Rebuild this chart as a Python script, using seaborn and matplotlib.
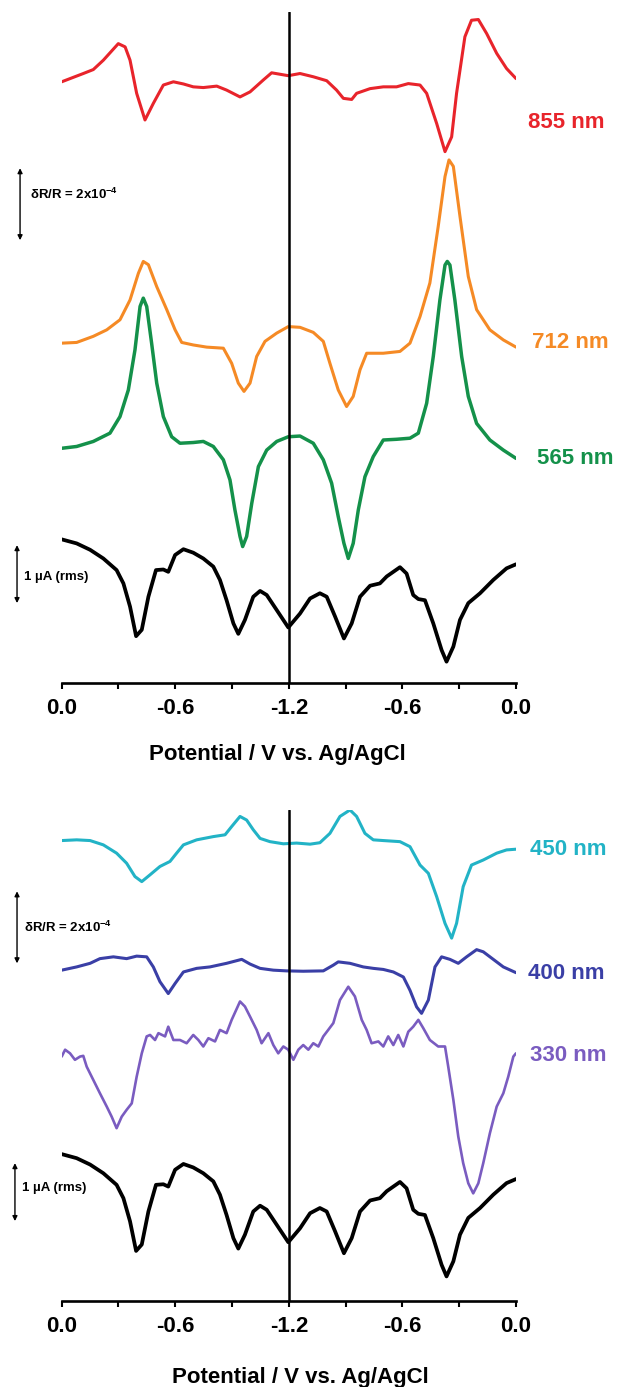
import numpy as np
import pandas as pd
import matplotlib
matplotlib.use("Agg")
import matplotlib.pyplot as plt
import seaborn as sns

# ---------------- data ----------------
# x: distance along the cyclic sweep (V), 0 -> 1.2 (= -1.2 V) -> 2.4 (back to 0.0 V)
# signals: dR/R in units of 1e-4 (optical), current in uA (rms)
red_scan = [0, 0.114, 0.167, 0.220, 0.299, 0.335, 0.361, 0.396, 0.440, 0.484, 0.537, 0.590, 0.643, 0.695,
            0.748, 0.819, 0.871, 0.942, 0.995, 1.065, 1.109, 1.153, 1.197, 1.259, 1.329, 1.400, 1.452, 1.488,
            1.532, 1.558, 1.629, 1.699, 1.769, 1.831, 1.893, 1.928, 1.981, 2.025, 2.060, 2.086, 2.130, 2.165,
            2.201, 2.245, 2.298, 2.350, 2.400]
red_sig = [0, 0.23, 0.34, 0.60, 1.06, 0.97, 0.60, -0.32, -1.06, -0.60, -0.09, 0, -0.06, -0.14,
           -0.16, -0.12, -0.23, -0.42, -0.28, 0.05, 0.25, 0.21, 0.17, 0.23, 0.14, 0.03, -0.23, -0.46,
           -0.49, -0.32, -0.19, -0.14, -0.14, -0.05, -0.09, -0.32, -1.16, -1.94, -1.53, -0.32, 1.25, 1.71,
           1.73, 1.34, 0.79, 0.37, 0.09]

orange_scan = [0, 0.079, 0.167, 0.238, 0.308, 0.361, 0.405, 0.431, 0.458, 0.502, 0.555, 0.599, 0.634, 0.695,
               0.766, 0.854, 0.898, 0.933, 0.963, 0.995, 1.030, 1.074, 1.136, 1.197, 1.259, 1.329, 1.382, 1.417,
               1.461, 1.505, 1.540, 1.576, 1.611, 1.699, 1.787, 1.840, 1.893, 1.945, 1.989, 2.025, 2.046, 2.069,
               2.104, 2.148, 2.192, 2.262, 2.333, 2.400]
orange_sig = [0, 0.02, 0.19, 0.37, 0.65, 1.20, 1.94, 2.27, 2.18, 1.57, 0.93, 0.37, 0.02, -0.05,
              -0.11, -0.14, -0.56, -1.11, -1.34, -1.11, -0.37, 0.05, 0.28, 0.46, 0.44, 0.30, 0.05, -0.56,
              -1.30, -1.76, -1.48, -0.74, -0.28, -0.28, -0.23, 0, 0.74, 1.67, 3.24, 4.63, 5.09, 4.91,
              3.52, 1.85, 0.93, 0.37, 0.09, -0.11]

green_scan = [0, 0.079, 0.167, 0.255, 0.308, 0.352, 0.387, 0.414, 0.431, 0.449, 0.475, 0.502, 0.537, 0.581,
              0.625, 0.695, 0.748, 0.801, 0.854, 0.889, 0.915, 0.942, 0.956, 0.977, 1.004, 1.039, 1.083, 1.136,
              1.197, 1.259, 1.329, 1.382, 1.426, 1.461, 1.491, 1.514, 1.540, 1.567, 1.602, 1.646, 1.699, 1.769,
              1.840, 1.884, 1.928, 1.963, 1.998, 2.025, 2.037, 2.051, 2.077, 2.113, 2.148, 2.192, 2.262, 2.333,
              2.400]
green_sig = [0, 0.05, 0.19, 0.42, 0.88, 1.62, 2.73, 3.94, 4.17, 3.94, 2.92, 1.81, 0.88, 0.32,
             0.14, 0.16, 0.19, 0.05, -0.32, -0.88, -1.71, -2.45, -2.73, -2.45, -1.53, -0.51, -0.05, 0.19,
             0.32, 0.34, 0.14, -0.32, -0.97, -1.90, -2.64, -3.06, -2.64, -1.71, -0.79, -0.23, 0.23, 0.25,
             0.28, 0.42, 1.25, 2.55, 4.12, 5.09, 5.19, 5.09, 4.12, 2.55, 1.44, 0.69, 0.23, -0.05,
             -0.28]

current_scan = [0, 0.079, 0.150, 0.220, 0.290, 0.326, 0.361, 0.393, 0.423, 0.458, 0.498, 0.537, 0.563, 0.599,
                0.643, 0.695, 0.748, 0.801, 0.836, 0.871, 0.907, 0.933, 0.968, 1.012, 1.048, 1.083, 1.136, 1.197,
                1.259, 1.312, 1.364, 1.400, 1.444, 1.491, 1.532, 1.576, 1.629, 1.681, 1.717, 1.787, 1.822, 1.857,
                1.884, 1.919, 1.963, 2.007, 2.033, 2.069, 2.104, 2.148, 2.210, 2.280, 2.350, 2.400]
current_uA = [0, -0.07, -0.18, -0.33, -0.53, -0.76, -1.16, -1.67, -1.56, -0.99, -0.53, -0.52, -0.56, -0.27,
              -0.17, -0.23, -0.33, -0.47, -0.70, -1.05, -1.45, -1.63, -1.39, -0.99, -0.89, -0.96, -1.22, -1.52,
              -1.28, -1.02, -0.93, -0.99, -1.33, -1.71, -1.45, -0.99, -0.80, -0.76, -0.64, -0.48, -0.59, -0.96,
              -1.03, -1.05, -1.45, -1.91, -2.11, -1.85, -1.39, -1.10, -0.93, -0.70, -0.50, -0.43]

cyan_scan = [0, 0.079, 0.150, 0.220, 0.290, 0.343, 0.387, 0.423, 0.467, 0.519, 0.572, 0.607, 0.643, 0.713,
             0.801, 0.863, 0.898, 0.942, 0.977, 1.012, 1.048, 1.100, 1.171, 1.241, 1.312, 1.364, 1.417, 1.470,
             1.523, 1.558, 1.602, 1.646, 1.699, 1.787, 1.840, 1.893, 1.937, 1.981, 2.025, 2.060, 2.086, 2.121,
             2.165, 2.227, 2.298, 2.350, 2.400]
cyan_sig = [0, 0.02, 0, -0.12, -0.35, -0.63, -1.00, -1.14, -0.95, -0.72, -0.58, -0.35, -0.12, 0.02,
            0.11, 0.16, 0.39, 0.67, 0.57, 0.30, 0.06, -0.03, -0.09, -0.07, -0.10, -0.06, 0.20, 0.67,
            0.85, 0.67, 0.20, 0.02, 0, -0.03, -0.17, -0.68, -0.91, -1.56, -2.30, -2.71, -2.30, -1.28,
            -0.68, -0.54, -0.35, -0.26, -0.24]

blue_scan = [0, 0.079, 0.150, 0.202, 0.273, 0.343, 0.396, 0.449, 0.484, 0.519, 0.563, 0.599, 0.643, 0.713,
             0.783, 0.871, 0.951, 0.995, 1.048, 1.118, 1.188, 1.276, 1.382, 1.435, 1.461, 1.523, 1.593, 1.646,
             1.699, 1.752, 1.805, 1.840, 1.875, 1.901, 1.937, 1.972, 2.007, 2.051, 2.095, 2.139, 2.192, 2.227,
             2.280, 2.333, 2.400]
blue_sig = [0, 0.09, 0.19, 0.32, 0.37, 0.32, 0.39, 0.37, 0.09, -0.32, -0.65, -0.37, -0.05, 0.05,
            0.09, 0.19, 0.30, 0.17, 0.05, 0, -0.02, -0.03, -0.02, 0.14, 0.23, 0.19, 0.09, 0.05,
            0.02, -0.05, -0.19, -0.56, -1.02, -1.20, -0.83, 0.09, 0.37, 0.30, 0.19, 0.37, 0.57, 0.51,
            0.30, 0.09, -0.07]

purple_scan = [0, 0.018, 0.044, 0.070, 0.097, 0.114, 0.132, 0.167, 0.202, 0.238, 0.264, 0.290, 0.317, 0.343,
               0.370, 0.396, 0.423, 0.449, 0.467, 0.493, 0.511, 0.546, 0.563, 0.590, 0.625, 0.660, 0.695, 0.722,
               0.748, 0.775, 0.810, 0.836, 0.871, 0.898, 0.942, 0.968, 0.995, 1.030, 1.056, 1.092, 1.118, 1.144,
               1.171, 1.197, 1.224, 1.250, 1.276, 1.303, 1.329, 1.356, 1.382, 1.408, 1.435, 1.470, 1.514, 1.549,
               1.585, 1.611, 1.637, 1.673, 1.699, 1.725, 1.752, 1.778, 1.805, 1.831, 1.857, 1.884, 1.910, 1.945,
               1.989, 2.025, 2.042, 2.069, 2.095, 2.121, 2.148, 2.174, 2.201, 2.227, 2.262, 2.298, 2.333, 2.359,
               2.386, 2.400]
purple_sig = [0, 0.19, 0.09, -0.09, 0, 0.02, -0.28, -0.65, -1.02, -1.39, -1.67, -1.99, -1.67, -1.48,
              -1.30, -0.56, 0.09, 0.56, 0.60, 0.46, 0.65, 0.56, 0.83, 0.46, 0.46, 0.37, 0.60, 0.46,
              0.28, 0.51, 0.42, 0.74, 0.65, 1.02, 1.53, 1.39, 1.11, 0.74, 0.37, 0.65, 0.32, 0.09,
              0.28, 0.19, -0.09, 0.19, 0.32, 0.19, 0.37, 0.28, 0.56, 0.74, 0.93, 1.57, 1.94, 1.67,
              1.02, 0.74, 0.37, 0.42, 0.28, 0.56, 0.32, 0.60, 0.28, 0.69, 0.83, 1.02, 0.79, 0.46,
              0.28, 0.28, -0.28, -1.20, -2.22, -2.96, -3.52, -3.80, -3.52, -2.96, -2.13, -1.39, -1.02, -0.56,
              0, 0.09]

# vertical stacking offsets (in 1e-4 dR/R units) and trace labels
top_labels = ["855 nm", "712 nm", "565 nm"]
top_offsets = [16.70, 9.44, 6.52]
bottom_labels = ["450 nm", "400 nm", "330 nm"]
bottom_offsets = [12.79, 9.19, 6.79]
current_offsets = [3.99, 4.08]
uA_to_units = 1.61  # 1 uA scale bar relative to dR/R = 1e-4 unit

tick_pos = [0, 0.6, 1.2, 1.8, 2.4]
tick_labels = ["0.0", "-0.6", "-1.2", "-0.6", "0.0"]
minor_pos = [0.3, 0.9, 1.5, 2.1]
xlabel = "Potential / V vs. Ag/AgCl"

colors = {"855 nm": "#e8242b", "712 nm": "#f58a25", "565 nm": "#14914a",
          "450 nm": "#22b3c6", "400 nm": "#3a3fa6", "330 nm": "#7a5cc0"}

# ---------------- style ----------------
sns.set_theme(style="white")
plt.rcParams["font.family"] = ["Liberation Sans", "DejaVu Sans"]
plt.rcParams["font.weight"] = "bold"
plt.rcParams["text.color"] = "black"
plt.rcParams["axes.labelcolor"] = "black"
plt.rcParams["xtick.color"] = "black"
plt.rcParams["mathtext.fontset"] = "custom"
plt.rcParams["mathtext.rm"] = "Liberation Sans:bold"
plt.rcParams["mathtext.default"] = "rm"

W, H = 621, 1387
fig = plt.figure(figsize=(W / 100, H / 100), dpi=100)
left = 61.7 / W
width = (516 - 61.7) / W
ax_top = fig.add_axes([left, 1 - 683 / H, width, 671 / H])
ax_bot = fig.add_axes([left, 1 - 1301 / H, width, 491 / H])


def draw_trace(ax, scan, sig, offset, color, lw, scale=1.0):
    df = pd.DataFrame({"scan": scan, "y": np.asarray(sig) * scale + offset})
    sns.lineplot(data=df, x="scan", y="y", ax=ax, color=color, linewidth=lw,
                 estimator=None, sort=False, solid_joinstyle="round", solid_capstyle="round")


# top panel
draw_trace(ax_top, red_scan, red_sig, top_offsets[0], colors["855 nm"], 2.2)
draw_trace(ax_top, orange_scan, orange_sig, top_offsets[1], colors["712 nm"], 2.2)
draw_trace(ax_top, green_scan, green_sig, top_offsets[2], colors["565 nm"], 2.5)
draw_trace(ax_top, current_scan, current_uA, current_offsets[0], "black", 2.7, uA_to_units)
# bottom panel
draw_trace(ax_bot, cyan_scan, cyan_sig, bottom_offsets[0], colors["450 nm"], 2.2)
draw_trace(ax_bot, blue_scan, blue_sig, bottom_offsets[1], colors["400 nm"], 2.2)
draw_trace(ax_bot, purple_scan, purple_sig, bottom_offsets[2], colors["330 nm"], 1.9)
draw_trace(ax_bot, current_scan, current_uA, current_offsets[1], "black", 2.7, uA_to_units)

ax_top.set_ylim(0, 671 / 36)
ax_bot.set_ylim(0, 491 / 36)

label_pos_top = [(2.463, 15.58), (2.484, 9.47), (2.51, 6.25)]
label_pos_bot = [(2.474, 12.53), (2.463, 9.11), (2.474, 6.83)]
for ax, labels, poss in [(ax_top, top_labels, label_pos_top), (ax_bot, bottom_labels, label_pos_bot)]:
    for lab, (x, y) in zip(labels, poss):
        ax.text(x, y, lab, color=colors[lab], fontsize=16, fontweight="bold",
                ha="left", va="center", clip_on=False)

for ax, xl_x, xl_y in [(ax_top, 0.474, -0.091), (ax_bot, 0.525, -0.134)]:
    ax.set_xlim(0, 2.4)
    ax.axvline(1.2, color="black", linewidth=1.8)
    for side in ["left", "right", "top"]:
        ax.spines[side].set_visible(False)
    ax.spines["bottom"].set_linewidth(1.9)
    ax.spines["bottom"].set_color("black")
    ax.set_yticks([])
    ax.set_ylabel("")
    ax.set_xticks(tick_pos)
    ax.set_xticklabels(tick_labels)
    ax.set_xticks(minor_pos, minor=True)
    ax.tick_params(axis="x", which="both", direction="out", length=4, width=1.5,
                   color="black", labelcolor="black", bottom=True, pad=7, labelsize=16)
    for t in ax.get_xticklabels():
        t.set_fontweight("bold")
    ax.set_xlabel(xlabel, fontsize=16, fontweight="bold", color="black")
    ax.xaxis.set_label_coords(xl_x, xl_y)
    ax.patch.set_alpha(0)

# scale bars
arrow_kw = dict(arrowstyle="<|-|>", color="black", lw=1.0, mutation_scale=7, shrinkA=0, shrinkB=0)
ax_top.annotate("", xy=(-0.220, 12.30), xytext=(-0.220, 14.30), arrowprops=arrow_kw, annotation_clip=False)
ax_top.text(-0.167, 13.56, "\u03b4R/R = 2x10$^{-4}$", fontsize=9.5, fontweight="bold", va="center", ha="left")
ax_top.annotate("", xy=(-0.236, 3.83 - uA_to_units), xytext=(-0.236, 3.83), arrowprops=arrow_kw, annotation_clip=False)
ax_top.text(-0.199, 2.95, "1 \u00b5A (rms)", fontsize=9.5, fontweight="bold", va="center", ha="left")

ax_bot.annotate("", xy=(-0.236, 9.38), xytext=(-0.236, 11.38), arrowprops=arrow_kw, annotation_clip=False)
ax_bot.text(-0.199, 10.39, "\u03b4R/R = 2x10$^{-4}$", fontsize=9.5, fontweight="bold", va="center", ha="left")
ax_bot.annotate("", xy=(-0.247, 3.83 - uA_to_units), xytext=(-0.247, 3.83), arrowprops=arrow_kw, annotation_clip=False)
ax_bot.text(-0.21, 3.14, "1 \u00b5A (rms)", fontsize=9.5, fontweight="bold", va="center", ha="left")

fig.savefig("out.png", dpi=100, facecolor="white")
